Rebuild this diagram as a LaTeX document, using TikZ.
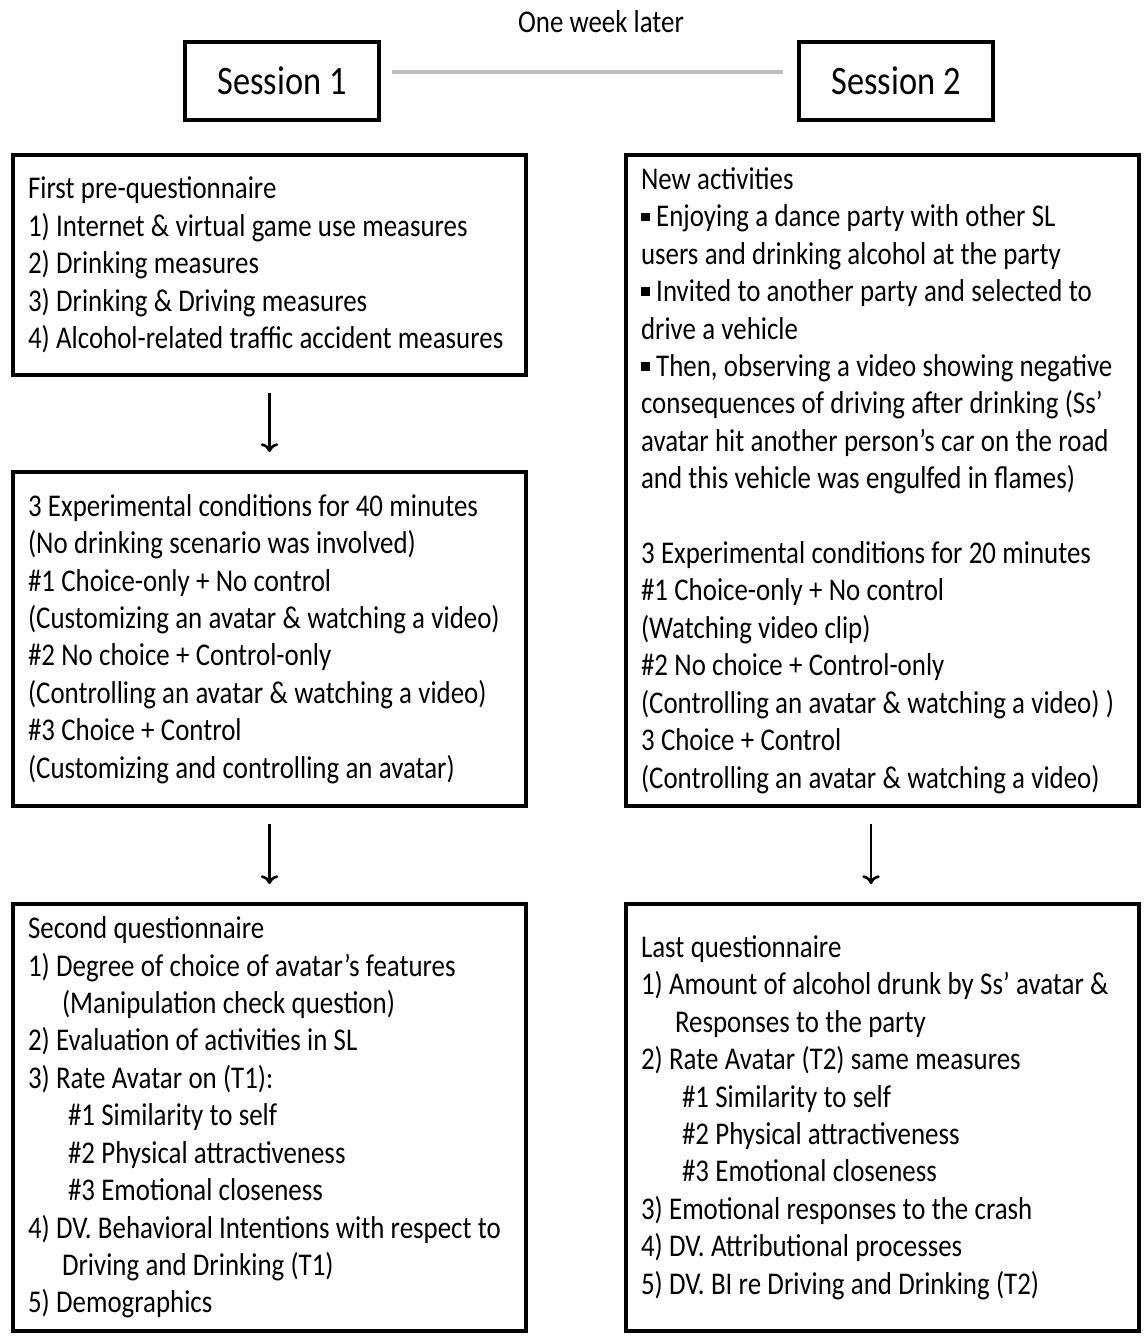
\documentclass[tikz,border=0pt]{standalone}
\usepackage{fontspec}
\setmainfont{Carlito}[FakeStretch=0.85]
\usetikzlibrary{arrows.meta}
\definecolor{weekgray}{RGB}{190,190,190}
\tikzstyle{session} = [rectangle, minimum width=3.88cm, minimum height=1.56cm, text centered, draw=black, line width=2.3pt, font=\fontsize{23}{27}\selectfont]
\tikzstyle{stepbox} = [rectangle, minimum width=10.26cm, text width=9.66cm, inner xsep=0.3cm, align=flush left, draw=black, line width=2.3pt, font=\fontsize{18}{21.3}\selectfont, execute at begin node={\spaceskip=0.2em\relax\rightskip=-0.4cm plus 1fil\relax}]
\tikzstyle{arrow} = [line width=1.5pt,-{To[length=5pt,width=10pt]}, shorten <=0.32cm, shorten >=0.36cm]
\newcommand{\sqbullet}{\rule[0.35ex]{0.28em}{0.28em}\ }
\newcommand{\ind}[1]{\hspace*{#1}}

\begin{document}
\begin{tikzpicture}[x=0.02cm,y=-0.02cm]
\useasboundingbox (0,0) rectangle (1143,1341);

\node (week) at (601,22) {\fontsize{18}{21.3}\selectfont One week later};
\node (session1) [session] at (282,81) {Session 1};
\node (session2) [session] at (896,81) {Session 2};

\node (prequest) [stepbox, minimum height=4.4cm] at (269.5,265) {First pre-questionnaire\\
1) Internet \& virtual game use measures\\
2) Drinking measures\\
3) Drinking \& Driving measures\\
4) Alcohol-related traffic accident measures};

\node (conditions) [stepbox, minimum height=6.68cm] at (269.5,639) {3 Experimental conditions for 40 minutes\\
(No drinking scenario was involved)\\
\#1 Choice-only + No control\\
(Customizing an avatar \& watching a video)\\
\#2 No choice + Control-only\\
(Controlling an avatar \& watching a video)\\
\#3 Choice + Control\\
(Customizing and controlling an avatar)};

\node (secondquest) [stepbox, minimum height=8.54cm] at (269.5,1117.5) {Second questionnaire\\
1) Degree of choice of avatar’s features\\
\ind{0.68cm}(Manipulation check question)\\
2) Evaluation of activities in SL\\
3) Rate Avatar on (T1):\\
\ind{0.8cm}\#1 Similarity to self\\
\ind{0.8cm}\#2 Physical attractiveness\\
\ind{0.8cm}\#3 Emotional closeness\\
4) DV. Behavioral Intentions with respect to\\
\ind{0.68cm}Driving and Drinking (T1)\\
5) Demographics};

\node (activities) [stepbox, minimum height=13.02cm] at (882.5,480.5) {New activities\\
\sqbullet Enjoying a dance party with other SL\\
users and drinking alcohol at the party\\
\sqbullet Invited to another party and selected to\\
drive a vehicle\\
\sqbullet Then, observing a video showing negative\\
consequences of driving after drinking (Ss’\\
avatar hit another person’s car on the road\\
and this vehicle was engulfed in flames)\\[21.3pt]
3 Experimental conditions for 20 minutes\\
\#1 Choice-only + No control\\
(Watching video clip)\\
\#2 No choice + Control-only\\
(Controlling an avatar \& watching a video) )\\
3 Choice + Control\\
(Controlling an avatar \& watching a video)};

\node (lastquest) [stepbox, minimum height=8.54cm] at (882.5,1117.5) {Last questionnaire\\
1) Amount of alcohol drunk by Ss’ avatar \&\\
\ind{0.68cm}Responses to the party\\
2) Rate Avatar (T2) same measures\\
\ind{0.82cm}\#1 Similarity to self\\
\ind{0.82cm}\#2 Physical attractiveness\\
\ind{0.82cm}\#3 Emotional closeness\\
3) Emotional responses to the crash\\
4) DV. Attributional processes\\
5) DV. BI re Driving and Drinking (T2)};

\draw [weekgray, line width=2.5pt, shorten <=0.22cm, shorten >=0.28cm] ([yshift=0.18cm]session1.east) -- ([yshift=0.18cm]session2.west);
\draw [arrow] (prequest) -- (conditions);
\draw [arrow] (conditions) -- (secondquest);
\draw [arrow] ([xshift=-0.23cm]activities.south) -- ([xshift=-0.23cm]lastquest.north);

\end{tikzpicture}
\end{document}
